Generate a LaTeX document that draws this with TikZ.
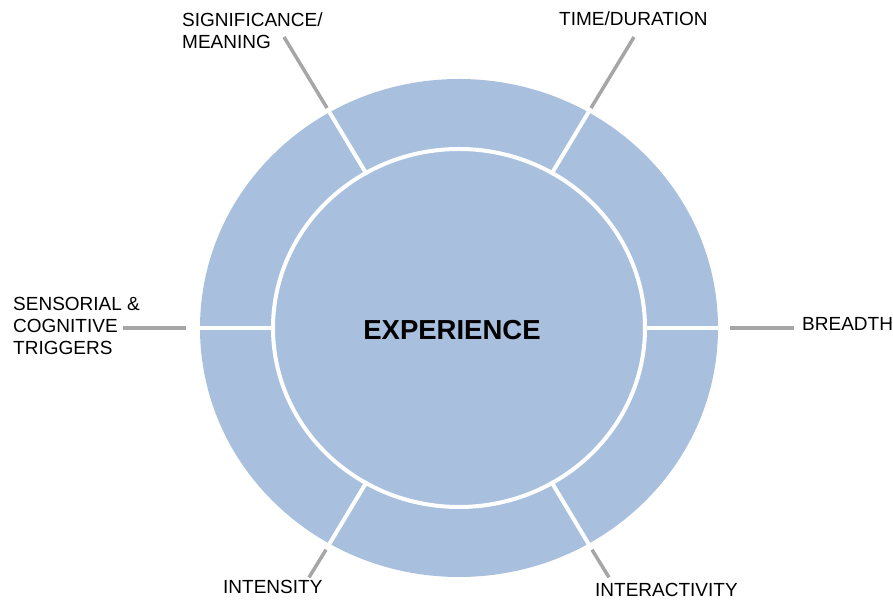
\documentclass[tikz,border=0pt]{standalone}
\usepackage{fontspec}
\setmainfont{Liberation Sans}
\usepackage{tikz}
\definecolor{ringblue}{RGB}{168,191,222}
\definecolor{tickgray}{RGB}{166,166,166}

\begin{document}
\begin{tikzpicture}[x=1pt,y=1pt,
		divider/.style={white,line width=4pt},
		tick/.style={tickgray,line width=3.5pt},
		label/.style={inner sep=0pt,align=left,font=\fontsize{19}{22}\selectfont}]
			\useasboundingbox (0,0) rectangle (893,601);
			\coordinate (c) at (459,273);
			
			\fill[ringblue] (c) ellipse [x radius=259, y radius=249];
			\draw[divider] (c) ellipse [x radius=186, y radius=179];
			
			\draw[divider] ([shift={(0:184 and 177)}]c) -- ([shift={(0:262 and 252)}]c);
			\draw[divider] ([shift={(60:184 and 177)}]c) -- ([shift={(60:262 and 252)}]c);
			\draw[divider] ([shift={(120:184 and 177)}]c) -- ([shift={(120:262 and 252)}]c);
			\draw[divider] ([shift={(180:184 and 177)}]c) -- ([shift={(180:262 and 252)}]c);
			\draw[divider] ([shift={(240:184 and 177)}]c) -- ([shift={(240:262 and 252)}]c);
			\draw[divider] ([shift={(300:184 and 177)}]c) -- ([shift={(300:262 and 252)}]c);
			
			\node[font=\bfseries\fontsize{27.5}{33}\selectfont] (exp) at ([shift={(-7,-2.5)}]c) {EXPERIENCE};
			
			\node[label,anchor=north west] (meaning) at (182,588) {SIGNIFICANCE/\\MEANING};
			\node[label,anchor=base west] (duration) at (559,575) {TIME/DURATION};
			\node[label,anchor=base west] (breadth) at (802,270) {BREADTH};
			\node[label,anchor=north west] (triggers) at (13,304) {SENSORIAL \&\\COGNITIVE\\TRIGGERS};
			\node[label,anchor=base west] (intensity) at (223,7) {INTENSITY};
			\node[label,anchor=base west] (interact) at (595,4) {INTERACTIVITY};
			
			% tick ends
			\coordinate (m1) at ([shift={(120:264 and 254)}]c);
			\coordinate (m2) at ([shift={(120:350 and 336)}]c);
			\coordinate (d1) at ([shift={(60:264 and 254)}]c);
			\coordinate (d2) at ([shift={(60:350 and 336)}]c);
			\coordinate (b1) at ([shift={(0:271)}]c);
			\coordinate (b2) at ([shift={(0:335)}]c);
			\coordinate (s1) at ([shift={(180:273)}]c);
			\coordinate (s2) at ([shift={(180:336)}]c);
			\coordinate (i1) at ([shift={(240:266 and 256)}]c);
			\coordinate (i2) at ([shift={(240:300 and 288)}]c);
			\coordinate (a1) at ([shift={(300:266 and 256)}]c);
			\coordinate (a2) at ([shift={(300:300 and 288)}]c);
			
			\draw[tick] (m1) -- (m2);
			\draw[tick] (d1) -- (d2);
			\draw[tick] (b1) -- (b2);
			\draw[tick] (s1) -- (s2);
			\draw[tick] (i1) -- (i2);
			\draw[tick] (a1) -- (a2);
		\end{tikzpicture}
\end{document}
